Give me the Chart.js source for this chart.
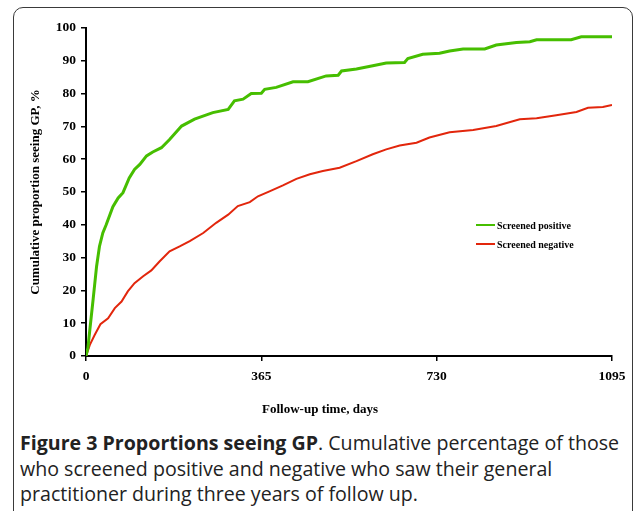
<!DOCTYPE html>
<html>
<head>
<meta charset="utf-8">
<script src="https://cdn.jsdelivr.net/npm/chart.js@4.4.0/dist/chart.umd.min.js"></script>
<style>
    body { margin: 0; background: #fff; width: 635px; height: 511px; overflow: hidden; position: relative; }
    #frame {
        position: absolute; left: 13px; top: 7px; width: 620px; height: 600px;
        border: 1.5px solid #3a3a3a; border-radius: 10px; box-sizing: border-box;
    }
    #myChart { position: absolute; left: 0; top: 0; }
    #caption {
        position: absolute; left: 20px; top: 430px;
        font-family: 'Open Sans', sans-serif; font-size: 19.6px; line-height: 25.7px;
        color: #222; white-space: nowrap;
    }
    #caption b { font-weight: 700; }
</style>
</head>
<body>
<div id="frame"></div>
<canvas id="myChart" width="635" height="420"></canvas>
<div id="caption"><b>Figure 3 Proportions seeing GP</b>. Cumulative percentage of those<br>who screened positive and negative who saw their general<br>practitioner during three years of follow up.</div>
<script>
// follow-up day / cumulative %
const posDays = [0, 4, 8, 15, 22, 28, 35, 42, 56, 67, 77, 90, 101, 112, 126, 139, 157, 174, 199, 226, 264, 296, 309, 327, 344, 365, 372, 396, 431, 462, 500, 525, 532, 563, 597, 625, 663, 670, 701, 736, 757, 785, 830, 854, 896, 924, 938, 1010, 1031, 1095];
const posPct = [0, 2.5, 8, 17.5, 27.3, 33.4, 37.5, 40, 45.5, 48.2, 49.8, 54.3, 56.9, 58.4, 61, 62.2, 63.5, 66, 70.1, 72.2, 74.2, 75.2, 77.8, 78.3, 80, 80.1, 81.3, 81.9, 83.6, 83.6, 85.4, 85.6, 86.9, 87.5, 88.5, 89.3, 89.5, 90.7, 92, 92.3, 93, 93.6, 93.6, 94.8, 95.6, 95.8, 96.4, 96.4, 97.3, 97.3];

const negDays = [0, 8, 18, 30, 46, 60, 74, 87, 101, 119, 136, 153, 174, 195, 216, 244, 271, 296, 316, 341, 358, 382, 410, 438, 466, 493, 528, 563, 597, 625, 653, 688, 715, 757, 806, 854, 903, 938, 979, 1021, 1045, 1076, 1095];
const negPct = [0, 3.4, 6.4, 9.7, 11.5, 14.6, 16.6, 19.7, 22.2, 24.3, 26.1, 28.8, 31.9, 33.4, 35, 37.5, 40.6, 43.1, 45.7, 46.9, 48.7, 50.2, 52, 54, 55.4, 56.4, 57.4, 59.4, 61.5, 63, 64.2, 65, 66.6, 68.2, 68.9, 70.1, 72.2, 72.5, 73.4, 74.4, 75.7, 75.9, 76.5];

const seriesLabels = ['Screened positive', 'Screened negative'];
const seriesColors = ['#46be00', '#e2260c'];
const xTicks = [0, 365, 730, 1095];
const yMax = 100;

const serif = "'Liberation Serif', 'Times New Roman', serif";
const toPoints = (xs, ys) => xs.map((x, i) => ({ x: x, y: ys[i] }));

// small legend drawn inside the plot, like the original
const insideLegend = {
    id: 'insideLegend',
    afterDraw(chart) {
        const c = chart.ctx;
        const area = chart.chartArea;
        const x0 = area.left + 390;
        const rows = [225, 244];
        c.save();
        c.font = 'bold 10px ' + serif;
        c.textBaseline = 'middle';
        c.fillStyle = '#000';
        chart.data.datasets.forEach((ds, i) => {
            const y = rows[i];
            c.strokeStyle = ds.borderColor;
            c.lineWidth = 2;
            c.beginPath();
            c.moveTo(x0, y);
            c.lineTo(x0 + 19, y);
            c.stroke();
            c.fillText(ds.label, x0 + 21, y + 1.5);
        });
        c.restore();
    }
};

const ctx = document.getElementById('myChart').getContext('2d');
new Chart(ctx, {
    type: 'line',
    data: {
        datasets: [
            {
                label: seriesLabels[0],
                data: toPoints(posDays, posPct),
                borderColor: seriesColors[0],
                borderWidth: 3,
                pointRadius: 0,
                tension: 0
            },
            {
                label: seriesLabels[1],
                data: toPoints(negDays, negPct),
                borderColor: seriesColors[1],
                borderWidth: 2,
                pointRadius: 0,
                tension: 0
            }
        ]
    },
    options: {
        responsive: false,
        animation: false,
        layout: { padding: { left: 28, top: 28, right: 23, bottom: 0 } },
        plugins: {
            legend: { display: false },
            tooltip: { enabled: false },
            title: {
                display: true,
                position: 'bottom',
                text: 'Follow-up time, days',
                color: '#000',
                font: { family: serif, size: 13, weight: 'bold' },
                padding: { top: 0, bottom: 3 }
            }
        },
        scales: {
            x: {
                type: 'linear',
                min: 0,
                max: xTicks[xTicks.length - 1],
                afterBuildTicks: (scale) => { scale.ticks = xTicks.map(v => ({ value: v })); },
                afterFit: (scale) => { scale.height = 45.4; },
                border: { color: '#000', width: 2 },
                grid: { drawOnChartArea: false, tickLength: 5, color: '#000', lineWidth: 1.5 },
                ticks: {
                    color: '#000', padding: 7, maxRotation: 0,
                    font: { family: serif, size: 13.5, weight: 'bold' },
                    callback: (v) => String(v)
                }
            },
            y: {
                min: 0,
                max: yMax,
                afterFit: (scale) => { scale.width = 58; },
                border: { color: '#000', width: 2 },
                grid: { drawOnChartArea: false, tickLength: 5, color: '#000', lineWidth: 1.5 },
                ticks: { stepSize: 10, color: '#000', padding: 5, font: { family: serif, size: 13.5, weight: 'bold' } },
                title: {
                    display: true,
                    text: 'Cumulative proportion seeing GP, %',
                    color: '#000',
                    padding: 0,
                    font: { family: serif, size: 13, weight: 'bold' }
                }
            }
        }
    },
    plugins: [insideLegend]
});
</script>
</body>
</html>
